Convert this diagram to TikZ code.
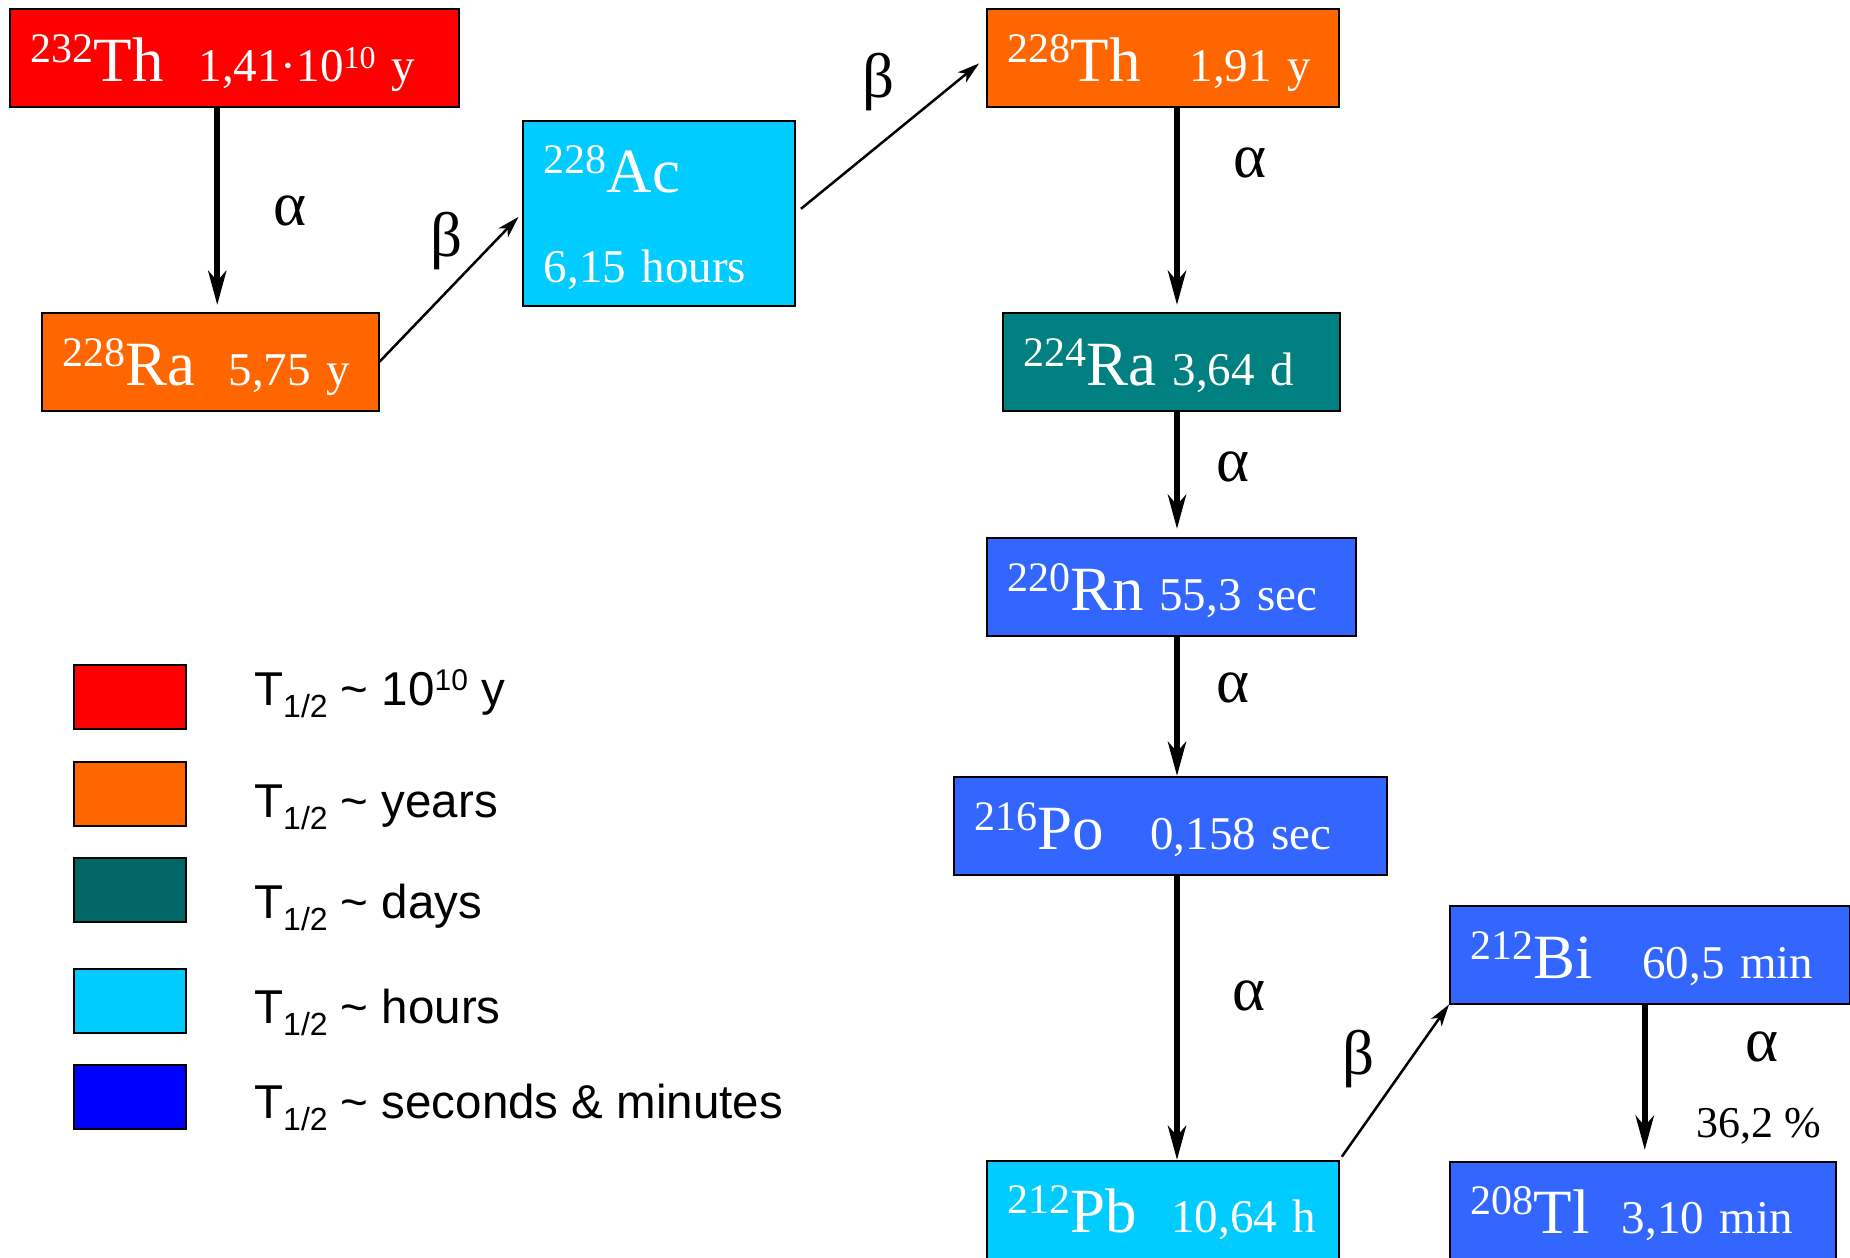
\documentclass[tikz,border=0pt]{standalone}
\usepackage{fontspec}
\setmainfont{Liberation Serif}
\newfontfamily\legendfont{Liberation Sans}
\usetikzlibrary{arrows.meta,positioning}
\usepackage{xcolor}
\definecolor{tenten}{HTML}{FF0000}
\definecolor{years}{HTML}{FF6600}
\definecolor{days}{HTML}{008080}
\definecolor{dayskey}{HTML}{006666}
\definecolor{hours}{HTML}{00CCFF}
\definecolor{secmin}{HTML}{3366FF}
\definecolor{secminkey}{HTML}{0000FF}
\tikzset{
  >=Stealth,
  nucbox/.style={draw=black,line width=1.5pt,anchor=north west,minimum height=98pt,inner xsep=21pt,inner ysep=0pt,align=left,text height=60pt,text depth=12pt,text=white,font=\fontsize{47}{90}\selectfont},
  cutbox/.style={nucbox,minimum height=110pt,text depth=26pt},
  swatch/.style={draw=black,line width=1.5pt,anchor=north west,minimum width=112pt,minimum height=64pt,inner sep=0pt},
  legtext/.style={anchor=base west,inner sep=0pt,font=\legendfont\fontsize{47.5}{47.5}\selectfont},
  alphaarr/.style={-{Stealth[length=34pt,width=18pt,inset=10pt]},line width=6pt},
  betaarr/.style={-{Stealth[length=22pt,width=13pt,inset=6pt]},line width=2.5pt},
  decaylbl/.style={font=\fontsize{63}{63}\selectfont,inner sep=0pt},
  branchlbl/.style={font=\fontsize{44}{44}\selectfont,inner sep=0pt},
}
\newcommand{\nuc}[2]{{\fontsize{42}{42}\selectfont\raisebox{19pt}{#1}}{\fontsize{63}{63}\selectfont #2}}
\newcommand{\expo}[1]{\raisebox{13pt}{\fontsize{32}{32}\selectfont #1}}
\newcommand{\thalf}{T\raisebox{-12pt}{\fontsize{32}{32}\selectfont 1/2}}
\newcommand{\lexp}[1]{\raisebox{15pt}{\fontsize{30}{30}\selectfont #1}}

\begin{document}
\begin{tikzpicture}[x=1pt,y=-1pt]
\useasboundingbox (0,0) rectangle (1850,1258);
\clip (0,0) rectangle (1850,1258);

% left branch
\node[nucbox,fill=tenten,text width=407pt] (th232) at (9,8) {\nuc{232}{Th}\hspace{35pt}1,41·10\expo{10} y};
\node[nucbox,fill=years,text width=295pt] (ra228) at (41,312) {\nuc{228}{Ra}\hspace{33pt}5,75 y};
\node[nucbox,fill=hours,text width=230pt,minimum height=185pt,text depth=101pt] (ac228) at (522,120) {\nuc{228}{Ac}\\6,15 hours};

% main chain
\node[nucbox,fill=years,text width=310pt] (th228) at (986,8) {\nuc{228}{Th}\hspace{49pt}1,91 y};
\node[nucbox,fill=days,text width=295pt] (ra224) at (1002,312) {\nuc{224}{Ra}\hspace{16pt}3,64 d};
\node[nucbox,fill=secmin,text width=327pt] (rn220) at (986,537) {\nuc{220}{Rn}\hspace{15pt}55,3 sec};
\node[nucbox,fill=secmin,text width=391pt] (po216) at (953,776) {\nuc{216}{Po}\hspace{46pt}0,158 sec};
\node[cutbox,fill=hours,text width=310pt] (pb212) at (986,1160) {\nuc{212}{Pb}\hspace{34pt}10,64 h};
\node[nucbox,fill=secmin,text width=358pt] (bi212) at (1449,905) {\nuc{212}{Bi}\hspace{49pt}60,5 min};
\node[cutbox,fill=secmin,text width=344pt] (tl208) at (1449,1161) {\nuc{208}{Tl}\hspace{32pt}3,10 min};

\coordinate (spine) at (1177,0);

\draw[alphaarr,shorten >=7pt] ([xshift=-17pt]th232.south) -- ([xshift=-17pt]th232.south |- ra228.north);
\draw[betaarr,shorten >=5pt] (ra228.east) -- (ac228.west);
\draw[betaarr,shorten <=7pt,shorten >=9pt] (ac228.east) -- (th228.west);
\draw[alphaarr,shorten >=7pt] (th228.south -| spine) -- (ra224.north -| spine);
\draw[alphaarr,shorten >=8pt] (ra224.south -| spine) -- (rn220.north -| spine);
\draw[alphaarr] (rn220.south -| spine) -- (po216.north -| spine);
\draw[alphaarr] (po216.south -| spine) -- (pb212.north -| spine);
\draw[betaarr,shorten <=4pt] (pb212.north east) -- (bi212.south west);
\draw[alphaarr,shorten >=11pt] ([xshift=-5pt]bi212.south) -- ([xshift=-5pt]bi212.south |- tl208.north);

\node[decaylbl] (a1) at (290,211) {α};
\node[decaylbl] (b1) at (447,241) {β};
\node[decaylbl] (b2) at (879,82) {β};
\node[decaylbl] (a2) at (1250,163) {α};
\node[decaylbl] (a3) at (1233,467) {α};
\node[decaylbl] (a4) at (1233,688) {α};
\node[decaylbl] (a5) at (1249,996) {α};
\node[decaylbl] (b3) at (1359,1059) {β};
\node[decaylbl] (a6) at (1762,1047) {α};
\node[branchlbl] (br) at (1759,1126) {36,2 \%};

% legend
\node[swatch,fill=tenten] (k1) at (73,664) {};
\node[swatch,fill=years] (k2) at (73,761) {};
\node[swatch,fill=dayskey] (k3) at (73,857) {};
\node[swatch,fill=hours] (k4) at (73,968) {};
\node[swatch,fill=secminkey] (k5) at (73,1064) {};
\node[legtext] (t1) at (254,705) {\thalf{} \textasciitilde{} 10\lexp{10} y};
\node[legtext] (t2) at (254,817) {\thalf{} \textasciitilde{} years};
\node[legtext] (t3) at (254,918) {\thalf{} \textasciitilde{} days};
\node[legtext] (t4) at (254,1023) {\thalf{} \textasciitilde{} hours};
\node[legtext] (t5) at (254,1118) {\thalf{} \textasciitilde{} seconds \& minutes};

\end{tikzpicture}
\end{document}
